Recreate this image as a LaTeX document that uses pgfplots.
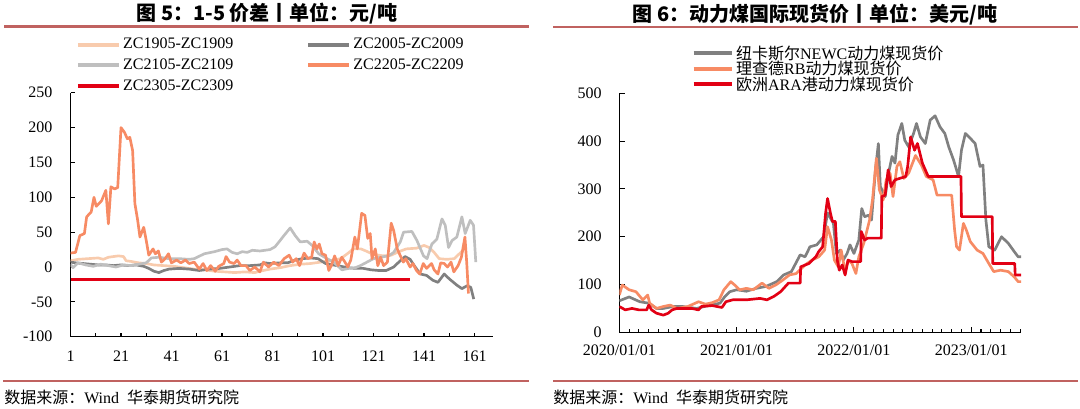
\documentclass[border=0pt]{standalone}
\usepackage{fontspec}
\setmainfont{Liberation Serif}
\newfontfamily\cjk{Noto Sans CJK SC}
\usepackage{pgfplots}
\pgfplotsset{compat=1.18}
\definecolor{cA}{RGB}{248,203,173}
\definecolor{cB}{RGB}{128,128,128}
\definecolor{cC}{RGB}{191,191,191}
\definecolor{cD}{RGB}{247,139,100}
\definecolor{cE}{RGB}{226,0,20}
\definecolor{rulec}{RGB}{192,98,96}
\begin{document}
\begin{tikzpicture}
\path[use as bounding box] (0,0) rectangle (810pt,306.75pt);
% titles and rules
\node[font=\cjk\bfseries\fontsize{15}{18}\selectfont] at (200.25pt,296.6pt) {图 5：1-5 价差丨单位：元/吨};
\node[font=\cjk\bfseries\fontsize{15}{18}\selectfont] at (611.25pt,295.8pt) {图 6：动力煤国际现货价丨单位：美元/吨};
\draw[rulec, line width=2pt] (3pt,286.9pt) -- (397pt,286.9pt);
\draw[rulec, line width=2pt] (414.75pt,286.4pt) -- (808.5pt,286.4pt);
\draw[rulec, line width=2pt] (2.25pt,21pt) -- (396.75pt,21pt);
\draw[rulec, line width=2pt] (414.75pt,21pt) -- (808.5pt,21pt);
\node[anchor=west, inner sep=0pt, font=\fontsize{12}{14}\selectfont] at (3pt,9pt) {{\cjk 数据来源：}Wind\ \ {\cjk 华泰期货研究院}};
\node[anchor=west, inner sep=0pt, font=\fontsize{12}{14}\selectfont] at (414.75pt,9pt) {{\cjk 数据来源：}Wind\ \ {\cjk 华泰期货研究院}};

% ---------------- left axis ----------------
\begin{axis}[
  at={(52.875pt,54.2pt)}, anchor=south west,
  scale only axis, width=316.65pt, height=183pt,
  xmin=1, xmax=168.2, ymin=-100, ymax=250,
  axis lines*=left, axis line style={line width=0.8pt, black},
  xtick={1,21,...,161}, minor xtick={11,31,...,151},
  ytick={-100,-50,...,250},
  tick style={black, line width=0.8pt}, major tick length=3pt, minor tick length=3pt,
  tick align=inside,
  ticklabel style={font=\fontsize{12}{14}\selectfont},
  /pgf/number format/assume math mode=true,
  xticklabel style={yshift=-7pt},
  yticklabel style={xshift=-10pt},
  legend columns=2,
  legend cell align=left,
  legend style={draw=none, fill=none, at={(0.012,1.235)}, anchor=north west,
    font=\fontsize{12}{14}\selectfont, inner sep=0pt, row sep=2pt,
    nodes={inner xsep=1.5pt},
    /tikz/every even column/.append style={column sep=53pt}},
  legend image code/.code={\draw[#1, line width=3pt] (0pt,0pt) -- (31pt,0pt);},
  every axis plot/.append style={line width=2pt, line join=round},
]
\addplot[cA] coordinates {(1,9) (4,11) (8,12) (12,13) (14,11) (16,14) (18,15) (20,16) (22,15) (23,9) (25,8) (28,6) (31,5) (34,3) (38,2) (42,1) (46,-1) (50,-3) (54,-4) (58,-6) (62,-7) (66,-8) (70,-7) (74,-8) (76,-6) (80,-3) (84,-1) (88,2) (92,4) (96,5) (100,7) (104,9) (108,12) (111,20) (113,26) (116,26) (118,23) (121,18) (125,16) (128,17) (131,22) (134,26) (138,27) (141,31) (143,28) (145,21) (147,12) (150,11) (153,12) (155,19) (157,26)};
\addlegendentry{ZC1905-ZC1909}
\addplot[cB] coordinates {(1,7) (3,6) (6,5) (9,4) (12,3) (15,3) (18,2) (21,3) (24,2) (27,3) (30,1) (32,-2) (34,-6) (36,-8) (38,-5) (40,-3) (44,-2) (48,-3) (52,-5) (56,-3) (60,-2) (64,0) (68,2) (72,2) (76,3) (78,6) (80,5) (84,6) (87,6) (90,10) (93,12) (96,13) (99,12) (102,5) (105,3) (108,1) (111,-1) (114,-2) (117,-2) (120,-4) (123,-5) (126,-5) (129,0) (131,7) (133.5,15) (135.5,11) (137.5,0) (139.5,-10) (142,-12) (144.5,-19) (146.5,-22) (149,-10) (151,-17) (154,-26) (156,-31) (158,-27) (159.5,-29) (160.7,-46)};
\addlegendentry{ZC2005-ZC2009}
\addplot[cC] coordinates {(1,4) (2,-1) (4,6) (7,3) (10,1) (13,4) (16,2) (19,0) (22,3) (25,2) (28,4) (31,6) (33,13) (36,14) (40,12) (44,12) (48,11) (50,12) (54,19) (58,22) (61,25) (63,26) (65,21) (67,19) (69,22) (71,21) (73,24) (76,23) (80,25) (82,29) (84,38) (85.5,45) (88,56) (90,45) (92,36) (94.7,37) (96.7,31) (99.3,19) (102.6,12) (105.2,7) (108.5,-4) (111.2,-2) (113.8,-1) (115.8,2) (118.4,7) (121,12) (123.7,14) (127,16) (129,21) (131.6,36) (132.9,50) (136.2,51) (138.2,38) (140.8,16) (142.2,12) (144.1,33) (146.1,40) (148.1,69) (149.4,60) (150.7,28) (152.1,38) (154,43) (156,72) (157.3,48) (159.3,67) (160.6,60) (161.5,7)};
\addlegendentry{ZC2105-ZC2109}
\addplot[cD] coordinates {(1,20) (3,21) (4.7,45) (6.5,48) (7.4,72) (9.2,79) (10.3,100) (11.2,87) (13.3,95) (15,110) (16,62) (17,115) (18.5,112) (19.7,114) (21,200) (22.4,193) (23.5,184) (24.5,186) (25.6,167) (26.5,91) (27.6,67) (28.5,43) (30,57) (31,38) (32,17) (33.7,26) (34.6,19) (35.8,23) (37,7) (38.5,12) (39.8,19) (41,6) (43,10) (44.7,6) (46.5,10) (48,5) (50,7) (52,-3) (53.5,5) (55,-5) (56.5,2) (58.3,-6) (59.7,1) (61.7,5) (62.6,15) (64,7) (65.8,5) (67,10) (68.5,2) (70.5,2) (72,-5) (74,0) (76,-7) (77.4,7) (79.4,0) (81.5,7) (83.5,2) (85.6,12) (87.6,17) (89,7) (90.4,12) (91.7,2) (93.5,20) (95,12) (96.5,14) (97.5,36) (98.6,26) (99.5,33) (100.6,19) (102,17) (103.3,-5) (104.3,2) (105.6,16) (107,2) (108.4,14) (109.7,7) (110.8,0) (112,10) (113.6,43) (114.6,26) (116.3,77) (117.6,74) (118.7,41) (119.7,48) (120.4,12) (121.7,26) (122.7,2) (123.8,14) (125,2) (126.5,7) (128,63) (129,52) (130.4,26) (131.5,17) (132.8,7) (133.8,12) (135.5,0) (136.6,5) (138,-5) (139.3,-10) (140.7,5) (142,-2) (144,5) (145,-4) (146.5,-10) (147.6,6) (149,5) (150.3,0) (151.7,7) (152.8,-7) (154.5,2) (155.8,14) (157.2,43) (157.9,7) (158.6,-38)};
\addlegendentry{ZC2205-ZC2209}
\addplot[cE] coordinates {(1,-18) (135.5,-18)};
\addlegendentry{ZC2305-ZC2309}
\end{axis}

% ---------------- right axis ----------------
\begin{axis}[
  at={(464.5pt,57.5pt)}, anchor=south west,
  scale only axis, width=301.3pt, height=179.25pt,
  xmin=0, xmax=41.1, ymin=0, ymax=500,
  axis lines*=left, axis line style={line width=0.8pt, black},
  xtick={0,12,24,36}, xticklabels={2020/01/01,2021/01/01,2022/01/01,2023/01/01},
  minor xtick={1,...,41},
  ytick={0,100,...,500},
  tick style={black, line width=0.8pt}, major tick length=4pt, minor tick length=2.2pt,
  tick align=inside,
  ticklabel style={font=\fontsize{12}{14}\selectfont},
  /pgf/number format/assume math mode=true,
  xticklabel style={yshift=-6pt},
  yticklabel style={xshift=-9.7pt},
  legend cell align=left,
  legend style={draw=none, fill=none, at={(0.179,1.212)}, anchor=north west,
    font=\fontsize{12}{14}\selectfont, inner sep=0pt, row sep=-4pt},
  legend image code/.code={\draw[#1, line width=3pt] (0pt,0pt) -- (28.5pt,0pt);},
  every axis plot/.append style={line width=2pt, line join=round},
]
\addplot[cB] coordinates {(0,66) (1,74) (2.1,64) (3,61) (3.8,50) (4.5,50) (5.5,54) (6.5,54) (7.9,50) (9.3,57) (10.3,61) (10.8,75) (11.3,85) (12,89) (13,86) (14,92) (15,96) (16.1,106) (16.8,120) (17.6,127) (18.5,162) (19,158) (19.5,179) (20.2,183) (20.9,200) (21.3,250) (21.9,228) (22.2,165) (22.6,172) (22.9,151) (23.3,165) (23.6,183) (24,165) (24.5,193) (24.8,259) (25.1,242) (25.5,245) (25.8,235) (26.2,340) (26.5,395) (26.7,305) (27.2,284) (27.5,329) (27.9,368) (28.2,354) (28.5,413) (28.9,437) (29.2,402) (29.6,388) (30.1,416) (30.4,437) (30.8,409) (31.3,395) (31.8,444) (32.3,453) (32.8,430) (33.3,416) (33.7,388) (34.2,360) (34.7,326) (35,381) (35.4,416) (35.9,406) (36.4,395) (36.9,347) (37.2,350) (37.5,235) (37.8,179) (38.4,172) (39.1,200) (39.8,186) (40.4,169) (40.8,158) (41.1,158)};
\addlegendentry{{\cjk 纽卡斯尔}NEWC{\cjk 动力煤现货价}}
\addplot[cD] coordinates {(0,78) (0.3,99) (1,89) (1.7,85) (2.4,68) (2.9,78) (3.1,61) (3.8,50) (4.5,54) (5.2,57) (5.9,50) (7,54) (8.1,64) (8.8,59) (9.5,62) (10.2,68) (10.7,89) (11.4,106) (11.8,99) (12.3,89) (13,92) (13.7,89) (14.6,103) (15.3,92) (16,99) (16.7,109) (17.4,120) (18.1,123) (19,141) (19.7,151) (20.4,158) (21,172) (21.3,221) (21.7,193) (22,151) (22.4,137) (22.7,172) (23.1,127) (23.4,151) (23.8,144) (24.2,123) (24.5,158) (25,186) (25.6,235) (25.9,277) (26.3,364) (26.6,298) (27,277) (27.3,319) (27.7,333) (28,284) (28.4,347) (28.7,357) (29.1,322) (29.6,333) (30.3,370) (30.9,350) (31.4,326) (32.1,319) (32.5,287) (34,287) (34.3,214) (34.5,179) (34.8,172) (35.2,228) (35.5,214) (35.9,190) (36.6,172) (37.2,165) (37.8,144) (38.3,127) (39,130) (39.8,127) (40.4,116) (40.8,106) (41.1,106)};
\addlegendentry{{\cjk 理查德}RB{\cjk 动力煤现货价}}
\addplot[cE] coordinates {(0,54) (0.6,47) (1.3,50) (2,47) (2.8,47) (3,57) (3.3,47) (3.8,40) (4.5,36) (5,40) (5.4,47) (5.9,50) (7.4,50) (8.1,47) (8.4,54) (9.5,56) (10.5,52) (10.9,64) (11.6,68) (13,68) (14.4,71) (15.1,68) (15.8,75) (16.5,85) (17.3,103) (18.5,103) (18.55,137) (19.4,144) (20.1,158) (20.4,169) (20.8,179) (21.1,249) (21.3,280) (21.6,249) (21.8,232) (22.1,232) (22.3,151) (22.5,130) (22.8,141) (23.1,120) (23.4,151) (23.8,148) (24.7,148) (24.75,211) (25.1,193) (25.4,197) (26.8,197) (26.85,284) (27.2,287) (27.5,340) (27.8,305) (28.2,319) (29.3,326) (29.5,347) (29.8,409) (30.2,381) (30.5,395) (31,354) (31.6,326) (34.95,326) (35.0,242) (38.15,242) (38.2,144) (40.45,144) (40.5,120) (41.1,120)};
\addlegendentry{{\cjk 欧洲}ARA{\cjk 港动力煤现货价}}
\end{axis}
\end{tikzpicture}
\end{document}
